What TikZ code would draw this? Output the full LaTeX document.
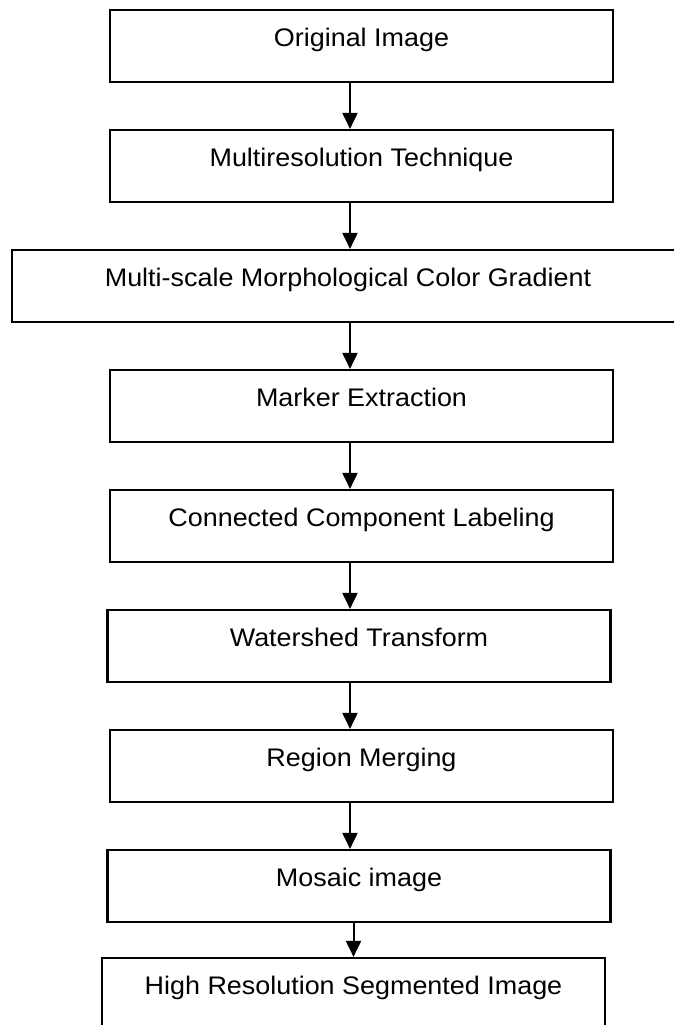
\documentclass[tikz,border=0pt]{standalone}
\usepackage{fontspec}
\setmainfont{Liberation Sans}[FakeStretch=1.06]
\usepackage{tikz}
\usetikzlibrary{arrows.meta}

\begin{document}
\begin{tikzpicture}[x=0.5pt, y=-0.5pt,
    stepbox/.style={draw, line width=1.1pt, rectangle, inner sep=0pt,
        minimum height=36pt, minimum width=251.5pt,
        text height=10pt, text depth=10pt,
        font=\fontsize{12.7}{15}\selectfont},
    flow/.style={line width=1pt, -{Triangle[length=8pt, width=7.5pt]}}]
            \useasboundingbox (0,0) rectangle (674,1025);

            % Process steps
            \node[stepbox] (orig) at (361.5, 46) {Original Image};
            \node[stepbox] (multires) at (361.5, 166) {Multiresolution Technique};
            \node[stepbox, minimum width=336pt] (gradient) at (348, 286) {Multi-scale Morphological Color Gradient};
            \node[stepbox] (marker) at (361.5, 406) {Marker Extraction};
            \node[stepbox] (ccl) at (361.5, 526) {Connected Component Labeling};
            \node[stepbox] (watershed) at (359, 646) {Watershed Transform};
            \node[stepbox] (merging) at (361.5, 766) {Region Merging};
            \node[stepbox] (mosaic) at (359, 886) {Mosaic image};
            \node[stepbox] (hires) at (353.5, 994) {High Resolution Segmented Image};

            % Arrows down the chain
            \coordinate (spine) at (350, 0);
            \draw[flow] (orig.south -| spine) -- (multires.north -| spine);
            \draw[flow] (multires.south -| spine) -- (gradient.north -| spine);
            \draw[flow] (gradient.south -| spine) -- (marker.north -| spine);
            \draw[flow] (marker.south -| spine) -- (ccl.north -| spine);
            \draw[flow] (ccl.south -| spine) -- (watershed.north -| spine);
            \draw[flow] (watershed.south -| spine) -- (merging.north -| spine);
            \draw[flow] (merging.south -| spine) -- (mosaic.north -| spine);
            \draw[flow] (mosaic.south -| hires.north) -- (hires.north);
        \end{tikzpicture}
\end{document}
